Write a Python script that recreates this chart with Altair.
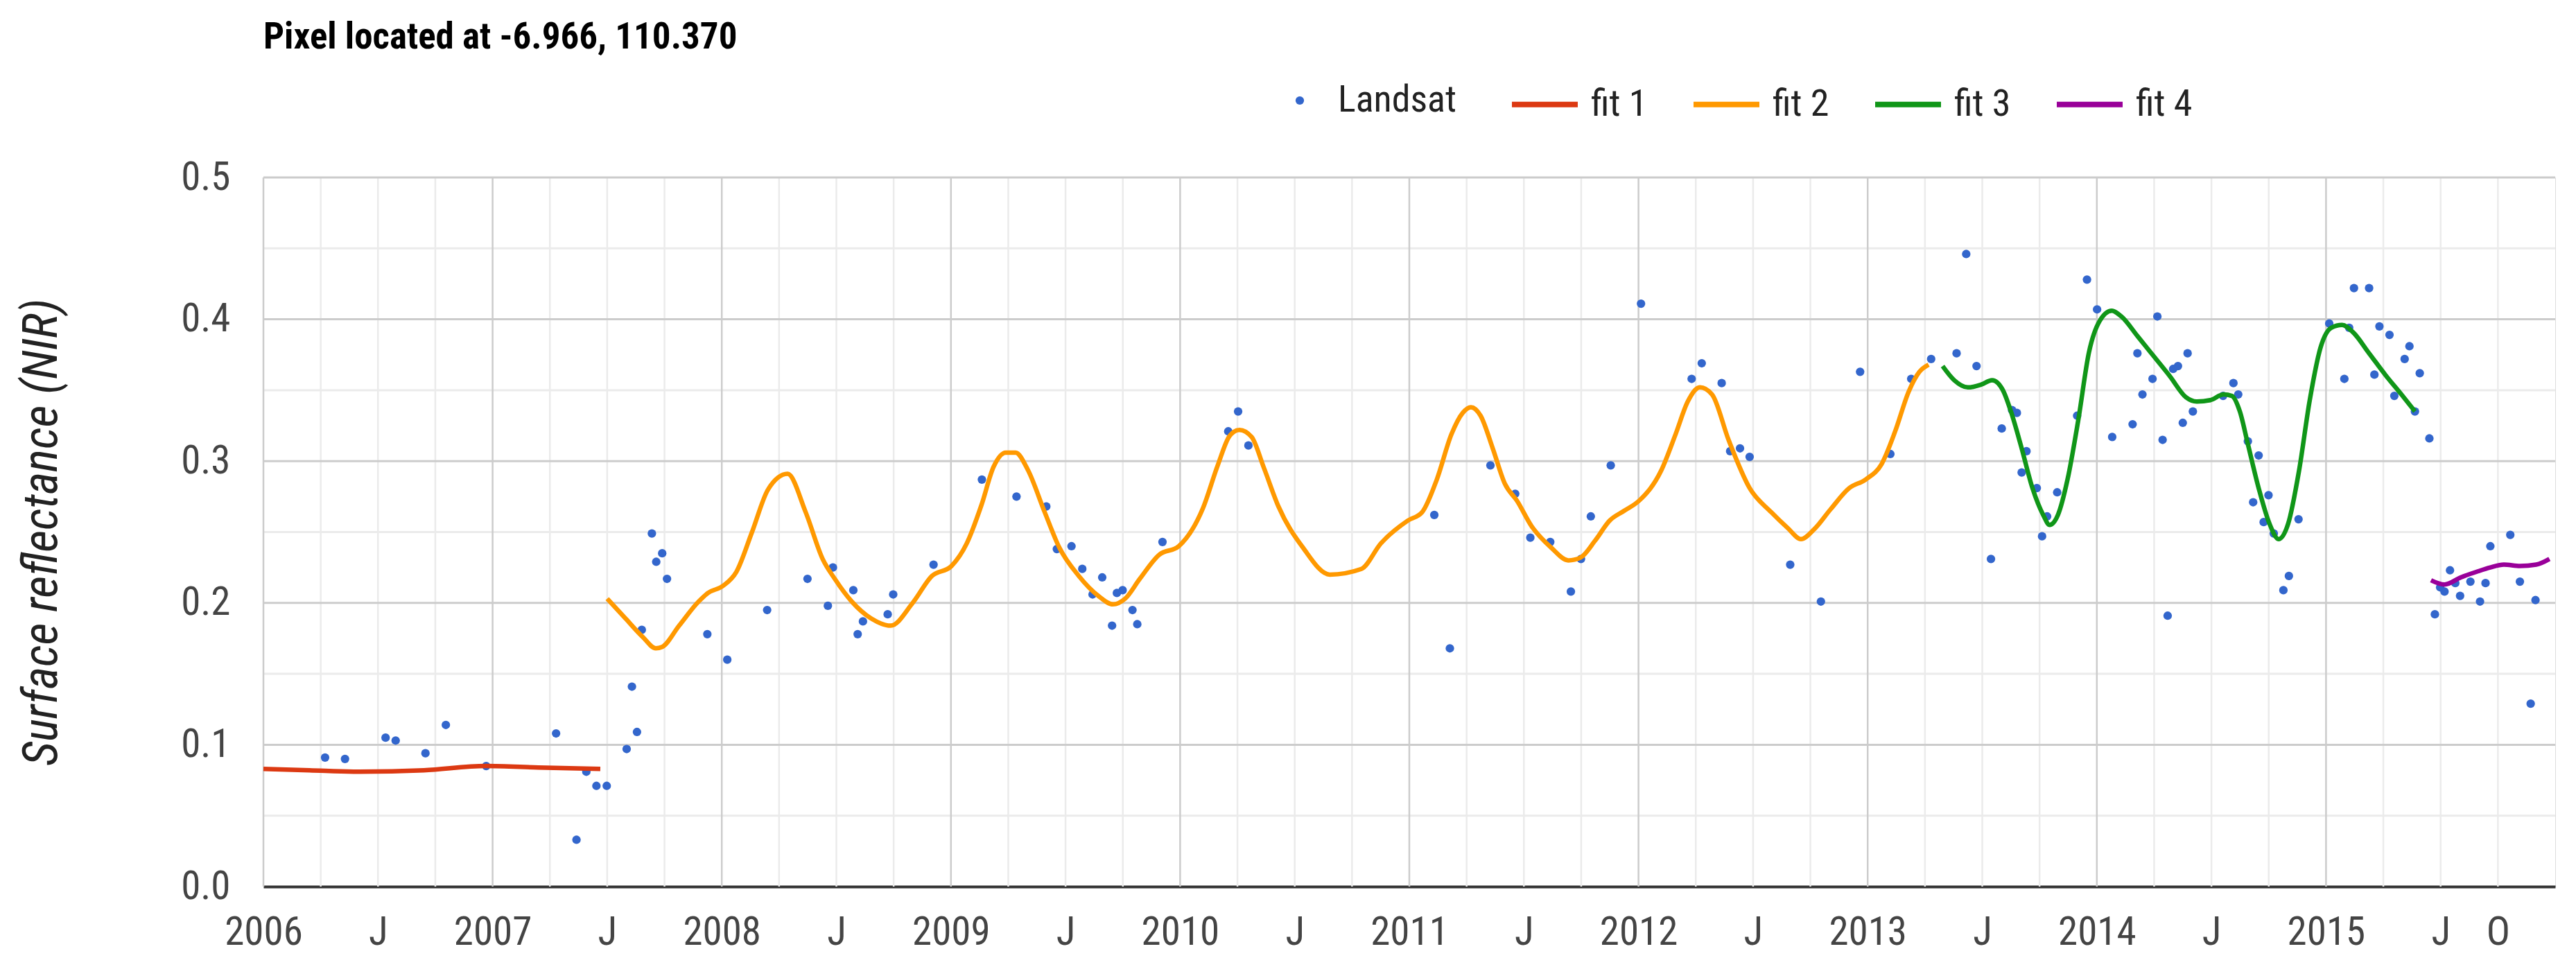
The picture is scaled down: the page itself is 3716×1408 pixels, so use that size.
import altair as alt
import pandas as pd

TITLE = "Pixel located at -6.966, 110.370"
Y_TITLE = "Surface reflectance (NIR)"
FONT = "Liberation Sans Narrow, Roboto Condensed, DejaVu Sans Condensed, Liberation Sans, Arial, sans-serif"

# ---- Landsat observations (decimal year, NIR surface reflectance) ----
landsat_year = [
    2006.269, 2006.356, 2006.533, 2006.577, 2006.707, 2006.796, 2006.972, 2007.277,
    2007.366, 2007.409, 2007.453, 2007.498, 2007.585, 2007.608, 2007.630, 2007.651,
    2007.695, 2007.714, 2007.740, 2007.761, 2007.937, 2008.024, 2008.198, 2008.374,
    2008.463, 2008.485, 2008.574, 2008.593, 2008.616, 2008.724, 2008.748, 2008.924,
    2009.135, 2009.286, 2009.416, 2009.462, 2009.526, 2009.573, 2009.618, 2009.660,
    2009.703, 2009.724, 2009.749, 2009.792, 2009.813, 2009.923, 2010.210, 2010.253,
    2010.298, 2011.109, 2011.177, 2011.354, 2011.462, 2011.528, 2011.615, 2011.705,
    2011.749, 2011.792, 2011.879, 2012.011, 2012.232, 2012.276, 2012.363, 2012.400,
    2012.443, 2012.485, 2012.662, 2012.796, 2012.967, 2013.099, 2013.190, 2013.277,
    2013.388, 2013.430, 2013.475, 2013.538, 2013.585, 2013.630, 2013.651, 2013.672,
    2013.693, 2013.738, 2013.761, 2013.783, 2013.827, 2013.914, 2013.957, 2014.001,
    2014.067, 2014.156, 2014.177, 2014.199, 2014.243, 2014.264, 2014.287, 2014.309,
    2014.333, 2014.354, 2014.375, 2014.396, 2014.419, 2014.551, 2014.596, 2014.617,
    2014.659, 2014.682, 2014.706, 2014.728, 2014.749, 2014.772, 2014.814, 2014.838,
    2014.880, 2015.014, 2015.080, 2015.101, 2015.122, 2015.188, 2015.211, 2015.233,
    2015.277, 2015.298, 2015.343, 2015.364, 2015.388, 2015.409, 2015.451, 2015.475,
    2015.498, 2015.517, 2015.541, 2015.564, 2015.585, 2015.630, 2015.672, 2015.696,
    2015.717, 2015.804, 2015.846, 2015.893, 2015.914,
]
landsat_value = [
    0.091, 0.090, 0.105, 0.103, 0.094, 0.114, 0.085, 0.108,
    0.033, 0.081, 0.071, 0.071, 0.097, 0.141, 0.109, 0.181,
    0.249, 0.229, 0.235, 0.217, 0.178, 0.160, 0.195, 0.217,
    0.198, 0.225, 0.209, 0.178, 0.187, 0.192, 0.206, 0.227,
    0.287, 0.275, 0.268, 0.238, 0.240, 0.224, 0.206, 0.218,
    0.184, 0.207, 0.209, 0.195, 0.185, 0.243, 0.321, 0.335,
    0.311, 0.262, 0.168, 0.297, 0.277, 0.246, 0.243, 0.208,
    0.231, 0.261, 0.297, 0.411, 0.358, 0.369, 0.355, 0.307,
    0.309, 0.303, 0.227, 0.201, 0.363, 0.305, 0.358, 0.372,
    0.376, 0.446, 0.367, 0.231, 0.323, 0.336, 0.334, 0.292,
    0.307, 0.281, 0.247, 0.261, 0.278, 0.332, 0.428, 0.407,
    0.317, 0.326, 0.376, 0.347, 0.358, 0.402, 0.315, 0.191,
    0.365, 0.367, 0.327, 0.376, 0.335, 0.346, 0.355, 0.347,
    0.314, 0.271, 0.304, 0.257, 0.276, 0.249, 0.209, 0.219,
    0.259, 0.397, 0.358, 0.394, 0.422, 0.422, 0.361, 0.395,
    0.389, 0.346, 0.372, 0.381, 0.335, 0.362, 0.316, 0.192,
    0.211, 0.208, 0.223, 0.214, 0.205, 0.215, 0.201, 0.214,
    0.240, 0.248, 0.215, 0.129, 0.202,
]

# ---- fitted segments ----
fit1_year = [2006.0, 2006.2, 2006.42, 2006.7, 2006.97, 2007.2, 2007.47]
fit1_value = [0.083, 0.082, 0.081, 0.082, 0.085, 0.084, 0.083]

fit2_year = [
    2007.50, 2007.58, 2007.655, 2007.712, 2007.74, 2007.814, 2007.899, 2007.94,
    2008.005, 2008.064, 2008.132, 2008.202, 2008.287, 2008.366, 2008.44, 2008.493,
    2008.567, 2008.652, 2008.737, 2008.833, 2008.917, 2009.002, 2009.069, 2009.133,
    2009.186, 2009.239, 2009.282, 2009.335, 2009.409, 2009.473, 2009.558, 2009.643,
    2009.707, 2009.76, 2009.824, 2009.909, 2009.994, 2010.10, 2010.164, 2010.217,
    2010.259, 2010.312, 2010.366, 2010.429, 2010.536, 2010.653, 2010.791, 2010.876,
    2010.993, 2011.056, 2011.12, 2011.184, 2011.233, 2011.269, 2011.311, 2011.364,
    2011.417, 2011.47, 2011.534, 2011.619, 2011.694, 2011.747, 2011.811, 2011.874,
    2011.938, 2012.002, 2012.098, 2012.162, 2012.215, 2012.268, 2012.321, 2012.393,
    2012.485, 2012.579, 2012.65, 2012.709, 2012.767, 2012.838, 2012.92, 2012.991,
    2013.061, 2013.12, 2013.179, 2013.226, 2013.266,
]
fit2_value = [
    0.203, 0.189, 0.176, 0.168, 0.169, 0.184, 0.201, 0.207,
    0.212, 0.222, 0.250, 0.280, 0.291, 0.264, 0.231, 0.217,
    0.201, 0.189, 0.184, 0.200, 0.219, 0.226, 0.242, 0.269,
    0.296, 0.306, 0.306, 0.294, 0.264, 0.239, 0.219, 0.205,
    0.199, 0.203, 0.217, 0.234, 0.240, 0.267, 0.297, 0.318,
    0.322, 0.317, 0.295, 0.268, 0.239, 0.220, 0.224, 0.242,
    0.258, 0.264, 0.287, 0.319, 0.334, 0.338, 0.332, 0.309,
    0.284, 0.272, 0.254, 0.239, 0.230, 0.232, 0.244, 0.258,
    0.265, 0.272, 0.293, 0.319, 0.342, 0.352, 0.347, 0.315,
    0.281, 0.264, 0.253, 0.245, 0.252, 0.266, 0.281, 0.287,
    0.298, 0.321, 0.349, 0.363, 0.368,
]

fit3_year = [
    2013.327, 2013.378, 2013.437, 2013.496, 2013.543, 2013.59, 2013.625, 2013.672,
    2013.719, 2013.766, 2013.794, 2013.83, 2013.872, 2013.919, 2013.966, 2014.013,
    2014.065, 2014.107, 2014.178, 2014.248, 2014.318, 2014.389, 2014.436, 2014.495,
    2014.553, 2014.589, 2014.624, 2014.659, 2014.706, 2014.753, 2014.793, 2014.835,
    2014.882, 2014.929, 2014.976, 2015.023, 2015.07, 2015.117, 2015.188, 2015.258,
    2015.329, 2015.388,
]
fit3_value = [
    0.367, 0.357, 0.352, 0.354, 0.357, 0.350, 0.335, 0.309,
    0.281, 0.262, 0.255, 0.262, 0.287, 0.329, 0.377, 0.399,
    0.406, 0.402, 0.388, 0.374, 0.360, 0.345, 0.342, 0.343,
    0.347, 0.346, 0.335, 0.312, 0.281, 0.256, 0.245, 0.256,
    0.293, 0.343, 0.380, 0.394, 0.396, 0.391, 0.376, 0.361,
    0.347, 0.335,
]

fit4_year = [2015.458, 2015.517, 2015.588, 2015.658, 2015.717, 2015.776, 2015.846, 2015.917, 2015.975]
fit4_value = [0.216, 0.213, 0.218, 0.222, 0.225, 0.227, 0.226, 0.227, 0.231]

point_name = "Landsat"
point_color = "#3366cc"
fit_names = ["fit 1", "fit 2", "fit 3", "fit 4"]
fit_colors = ["#dc3912", "#ff9900", "#109618", "#990099"]

# ---- axis ticks / labels ----
x_tick_values = [2006, 2006.5, 2007, 2007.5, 2008, 2008.5, 2009, 2009.5, 2010, 2010.5,
                 2011, 2011.5, 2012, 2012.5, 2013, 2013.5, 2014, 2014.5, 2015, 2015.5, 2015.75]
x_tick_labels = ["2006", "J", "2007", "J", "2008", "J", "2009", "J", "2010", "J",
                 "2011", "J", "2012", "J", "2013", "J", "2014", "J", "2015", "J", "O"]
y_tick_values = [0.0, 0.1, 0.2, 0.3, 0.4, 0.5]

x_major_grid = [2006, 2007, 2008, 2009, 2010, 2011, 2012, 2013, 2014, 2015]
x_minor_grid = [y + q for y in x_major_grid for q in (0.25, 0.5, 0.75)]
y_major_grid = [0.1, 0.2, 0.3, 0.4, 0.5]
y_minor_grid = [0.05, 0.15, 0.25, 0.35, 0.45]

# ---- tables ----
pts_df = pd.DataFrame({"t": landsat_year, "v": landsat_value, "series": point_name})
fit_df = pd.concat([
    pd.DataFrame({"t": yr, "v": val, "series": nm})
    for yr, val, nm in zip([fit1_year, fit2_year, fit3_year, fit4_year],
                           [fit1_value, fit2_value, fit3_value, fit4_value], fit_names)
], ignore_index=True)

label_expr = " : ".join(f"datum.value == {v} ? '{l}'" for v, l in zip(x_tick_values, x_tick_labels)) + " : ''"

W, H = 3306, 1023
LABEL_SIZE = 57
LEGEND_SIZE = 54

X_SCALE = alt.Scale(domain=[2006, 2016], nice=False, zero=False)
Y_SCALE = alt.Scale(domain=[0, 0.5], nice=False, zero=False)

x_axis = alt.Axis(values=x_tick_values, labelExpr=label_expr, grid=False, ticks=False,
                  domain=True, domainColor="#333333", domainWidth=4,
                  labelFont=FONT, labelFontSize=LABEL_SIZE, labelColor="#444444",
                  labelPadding=38, labelOverlap=False, labelFlush=False, title=None)
y_axis = alt.Axis(values=y_tick_values, format=".1f", grid=False, ticks=False, domain=False,
                  labelFont=FONT, labelFontSize=LABEL_SIZE, labelColor="#444444",
                  labelPadding=48, labelOverlap=False,
                  title=Y_TITLE, titleFont=FONT, titleFontSize=70, titleFontStyle="italic",
                  titleFontWeight="normal", titleColor="#222222", titleAngle=270,
                  titleX=-320, titleY=H / 2, titleBaseline="middle", titleAlign="center")

xe = alt.X("t:Q", scale=X_SCALE, axis=x_axis)
ye = alt.Y("v:Q", scale=Y_SCALE, axis=y_axis)

g_xmin = alt.Chart(pd.DataFrame({"t": x_minor_grid})).mark_rule(color="#ebebeb", strokeWidth=2.5).encode(x=xe)
g_ymin = alt.Chart(pd.DataFrame({"v": y_minor_grid})).mark_rule(color="#ebebeb", strokeWidth=3).encode(y=ye)
g_xmaj = alt.Chart(pd.DataFrame({"t": x_major_grid})).mark_rule(color="#cccccc", strokeWidth=2.5).encode(x=xe)
g_ymaj = alt.Chart(pd.DataFrame({"v": y_major_grid})).mark_rule(color="#cccccc", strokeWidth=3).encode(y=ye)

points = alt.Chart(pts_df).mark_circle(size=150, opacity=1).encode(
    x=xe, y=ye,
    color=alt.Color("series:N", scale=alt.Scale(domain=[point_name], range=[point_color]),
                    legend=alt.Legend(orient="none", legendX=1468, legendY=-138, direction="horizontal",
                                      title=None, padding=0, symbolType="circle", symbolSize=150,
                                      labelFont=FONT, labelFontSize=LEGEND_SIZE, labelColor="#222222",
                                      labelOffset=28, labelLimit=500)),
)

lines = alt.Chart(fit_df).mark_line(strokeWidth=6.5, interpolate="monotone").encode(
    x=xe, y=ye,
    color=alt.Color("series:N", scale=alt.Scale(domain=fit_names, range=fit_colors),
                    legend=alt.Legend(orient="none", legendX=1797, legendY=-157, direction="horizontal",
                                      title=None, padding=0, symbolType="stroke", symbolSize=9025,
                                      symbolStrokeWidth=8, columnPadding=50,
                                      labelFont=FONT, labelFontSize=LEGEND_SIZE, labelColor="#222222",
                                      labelOffset=15, labelLimit=500)),
)

chart = alt.layer(g_xmin, g_ymin, g_xmaj, g_ymaj, points, lines).resolve_scale(color="independent").properties(
    width=W, height=H,
    autosize=alt.AutoSizeParams(type="none"),
    padding={"left": 372, "top": 248, "right": 14, "bottom": 100},
    title=alt.TitleParams(TITLE, anchor="start", frame="group", font=FONT, fontSize=53,
                          fontWeight="bold", color="#000000", offset=18),
).configure_view(stroke=None).configure(background="white")

chart.save("out.html", embed_options={"renderer": "svg", "actions": False})
